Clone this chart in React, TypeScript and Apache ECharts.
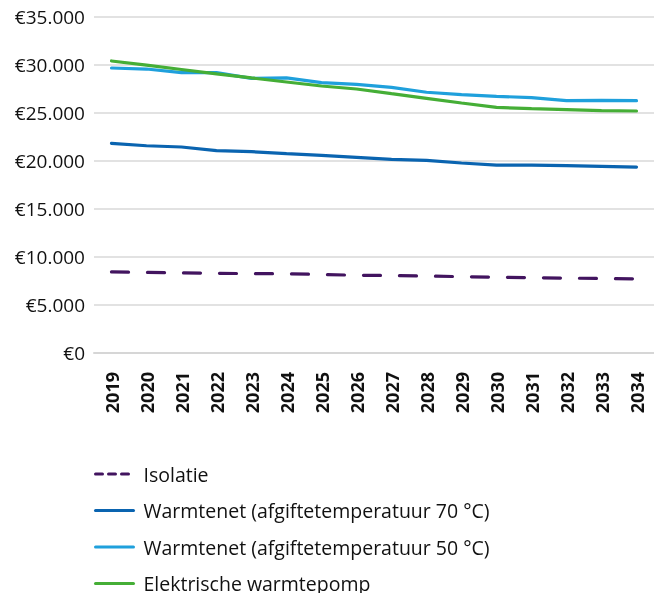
import React, { useEffect, useRef } from "react";
import * as echarts from "echarts";

const years = ["2019","2020","2021","2022","2023","2024","2025","2026","2027","2028","2029","2030","2031","2032","2033","2034"];
const isolatie = [8450, 8400, 8350, 8300, 8270, 8250, 8180, 8100, 8070, 8020, 7950, 7900, 7850, 7800, 7760, 7720];
const warmtenet70 = [21840, 21590, 21460, 21080, 20970, 20760, 20590, 20380, 20170, 20070, 19790, 19580, 19580, 19510, 19440, 19370];
const warmtenet50 = [29690, 29580, 29200, 29200, 28610, 28650, 28160, 27990, 27670, 27160, 26910, 26740, 26600, 26280, 26320, 26280];
const warmtepomp = [30420, 29980, 29530, 29080, 28650, 28230, 27810, 27500, 27010, 26530, 26040, 25590, 25450, 25350, 25240, 25210];
const seriesNames = ["Isolatie", "Warmtenet (afgiftetemperatuur 70 °C)", "Warmtenet (afgiftetemperatuur 50 °C)", "Elektrische warmtepomp"];
const colors = ["#42145f", "#0a64b0", "#1fa0dc", "#45ae36"];

const FONT = "'Open Sans', 'Noto Sans', sans-serif";

export default function App() {
  const ref = useRef<HTMLDivElement>(null);
  useEffect(() => {
    if (!ref.current) return;
    const chart = echarts.init(ref.current, null, { renderer: "svg" });
    const fmt = (v: number) => (v === 0 ? "€0" : "€" + String(v / 1000) + ".000");
    const mk = (i: number, data: number[], dashed: boolean) => ({
      name: seriesNames[i],
      type: "line",
      data,
      symbol: "none",
      showSymbol: false,
      smooth: false,
      color: colors[i],
      lineStyle: dashed
        ? { color: colors[i], width: 3.2, type: [17, 19], cap: "round" }
        : { color: colors[i], width: 3.2, cap: "round" },
    });
    chart.setOption({
      animation: false,
      textStyle: { fontFamily: FONT },
      grid: { left: 94, right: -10, top: 17, bottom: 240 },
      xAxis: {
        type: "category",
        data: years,
        boundaryGap: true,
        axisLine: { show: true, lineStyle: { color: "#d6d6d6", width: 2 } },
        axisTick: { show: false },
        axisLabel: { rotate: 90, margin: 19, fontSize: 18, fontWeight: "bold", color: "#111", fontFamily: FONT },
      },
      yAxis: {
        type: "value",
        min: 0,
        max: 35000,
        interval: 5000,
        axisLine: { show: false },
        axisTick: { show: false },
        splitLine: { lineStyle: { color: "#d9d9d9", width: 1.5 } },
        axisLabel: { formatter: fmt, fontSize: 19, color: "#111", margin: 9, fontFamily: FONT },
      },
      legend: {
        orient: "vertical",
        left: 89,
        top: 458,
        height: 140,
        itemWidth: 38,
        itemHeight: 14,
        itemGap: 14.5,
        itemStyle: { opacity: 0 },
        textStyle: { fontSize: 19.5, color: "#111", fontFamily: FONT, lineHeight: 22, padding: [0, 0, 0, 5] },
        data: [
          { name: seriesNames[0], lineStyle: { type: [7, 6], width: 3 } },
          { name: seriesNames[1], lineStyle: { width: 3 } },
          { name: seriesNames[2], lineStyle: { width: 3 } },
          { name: seriesNames[3], lineStyle: { width: 3 } },
        ],
      },
      series: [
        mk(0, isolatie, true),
        mk(1, warmtenet70, false),
        mk(2, warmtenet50, false),
        mk(3, warmtepomp, false),
      ],
    });
    return () => chart.dispose();
  }, []);
  return <div ref={ref} style={{ position: "fixed", left: 0, top: 0, width: 654, height: 593 }} />;
}
